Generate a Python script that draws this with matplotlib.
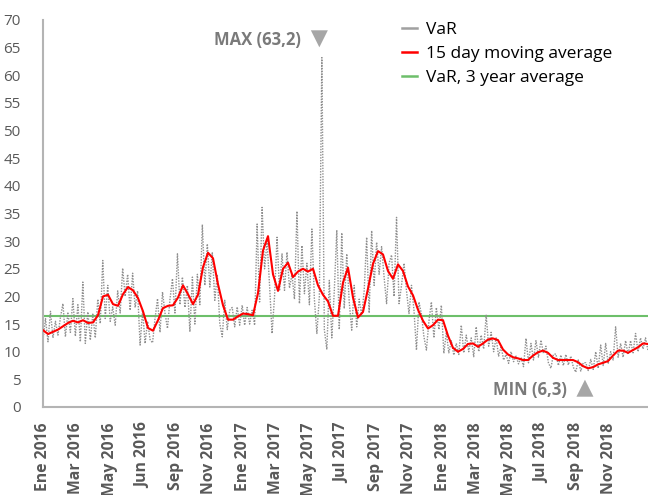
import numpy as np
import matplotlib
matplotlib.use("Agg")
import matplotlib.pyplot as plt

plt.rcParams['font.family'] = ['Open Sans', 'Noto Sans', 'DejaVu Sans']

# Daily VaR (millions), Jan 2016 - Dec 2018
var_daily = [
    12.0, 16.0, 11.8, 17.3, 12.5, 15.5, 13.0, 16.2, 18.7, 12.7,
    17.0, 13.5, 19.6, 12.8, 18.5, 11.8, 22.6, 11.5, 17.2, 12.1,
    16.8, 12.5, 19.5, 15.1, 26.5, 16.0, 22.0, 15.5, 18.1, 14.8,
    21.0, 17.0, 25.1, 20.0, 24.0, 17.5, 24.2, 18.0, 21.0, 11.2,
    17.5, 11.5, 15.5, 12.2, 11.6, 16.0, 19.6, 13.5, 20.8, 17.0,
    14.2, 19.5, 23.2, 17.0, 27.7, 18.5, 23.5, 18.0, 22.0, 13.6,
    23.5, 15.0, 24.0, 18.5, 33.0, 22.0, 29.5, 21.7, 28.0, 19.3,
    24.0, 15.1, 12.7, 19.3, 14.0, 17.5, 18.0, 14.5, 18.1, 14.8,
    18.4, 14.8, 18.0, 15.0, 17.5, 14.8, 33.1, 19.0, 36.1, 25.0,
    30.0, 22.0, 13.3, 20.0, 30.7, 21.0, 27.7, 21.1, 28.0, 21.5,
    24.0, 19.5, 35.4, 18.7, 29.2, 20.5, 26.0, 18.5, 32.2, 19.5,
    13.3, 20.0, 63.2, 14.0, 10.4, 22.9, 12.5, 21.0, 32.0, 14.0,
    31.5, 17.8, 27.7, 19.0, 13.9, 22.0, 14.5, 19.5, 16.5, 21.0,
    30.7, 17.0, 31.9, 22.0, 29.8, 24.0, 29.0, 23.5, 18.7, 26.0,
    27.5, 20.0, 34.3, 18.7, 22.0, 26.0, 21.0, 16.9, 22.0, 17.5,
    10.3, 19.0, 16.8, 12.7, 10.3, 15.5, 19.0, 12.5, 18.0, 14.0,
    18.4, 9.7, 13.5, 9.8, 12.0, 9.4, 11.5, 9.5, 14.8, 9.8,
    13.0, 10.0, 12.5, 9.1, 14.5, 10.0, 13.0, 10.5, 16.6, 11.0,
    13.5, 10.0, 12.5, 9.2, 11.0, 8.5, 9.5, 7.9, 10.0, 8.2,
    9.2, 7.8, 9.0, 7.3, 12.4, 8.0, 11.5, 8.5, 12.0, 9.0,
    12.1, 9.7, 11.0, 8.0, 7.0, 9.5, 9.6, 7.5, 9.4, 7.5,
    9.5, 7.6, 9.2, 7.2, 6.3, 8.5, 6.5, 8.0, 8.0, 6.6,
    8.6, 6.8, 10.0, 7.0, 11.2, 7.5, 11.5, 7.8, 10.0, 8.5,
    14.5, 9.0, 11.5, 9.0, 12.0, 9.5, 12.0, 9.8, 13.3, 10.0,
    12.5, 10.5, 12.5, 10.2,
]

# 15 day moving average of VaR
var_ma15 = [
    13.9, 13.2, 13.6, 14.0, 14.6, 15.2, 15.6, 15.3, 15.7, 15.2,
    15.3, 16.6, 20.0, 20.3, 18.6, 18.3, 20.4, 21.7, 21.1, 19.7,
    17.3, 14.3, 13.8, 15.7, 17.9, 18.3, 18.4, 19.8, 22.0, 20.4,
    18.6, 20.3, 25.3, 27.9, 26.9, 22.2, 18.4, 15.8, 15.8, 16.4,
    16.9, 16.8, 16.6, 20.6, 28.3, 30.9, 24.0, 21.0, 25.0, 26.1,
    23.5, 24.5, 25.0, 24.5, 25.0, 22.0, 20.3, 19.1, 16.5, 16.5,
    22.5, 25.2, 19.8, 16.2, 17.2, 21.4, 25.9, 28.2, 27.6, 24.6,
    23.2, 25.8, 24.6, 21.8, 20.2, 17.6, 15.6, 14.2, 14.8, 15.8,
    15.7, 12.9, 10.7, 10.0, 10.5, 11.4, 11.5, 10.9, 11.5, 12.2,
    12.4, 12.1, 10.4, 9.5, 9.0, 8.8, 8.5, 8.5, 9.3, 9.9,
    10.2, 9.8, 8.9, 8.5, 8.5, 8.5, 8.5, 8.1, 7.4, 7.0,
    7.2, 7.7, 8.0, 8.3, 9.3, 10.2, 10.2, 9.8, 10.3, 10.8,
    11.5, 11.4,
]

# VaR average over the three years
var_3y_avg = 16.4

month_labels = [
    "Ene 2016", "Mar 2016", "May 2016", "Jun 2016", "Sep 2016", "Nov 2016",
    "Ene 2017", "Mar 2017", "May 2017", "Jul 2017", "Sep 2017", "Nov 2017",
    "Ene 2018", "Mar 2018", "May 2018", "Jul 2018", "Sep 2018", "Nov 2018",
]

# time axis in months from January 2016
span_months = 36.34
x_var = np.linspace(0, span_months, len(var_daily))
x_ma = np.linspace(0, span_months, len(var_ma15))

fig = plt.figure(figsize=(6.48, 4.95), dpi=100)
ax = fig.add_axes([43 / 648, 1 - 407 / 495, 1 - 43 / 648, (407 - 20) / 495])

grey = "#8f8f8f"
ax.plot(x_var, var_daily, color=grey, lw=1.0, linestyle=(0, (1, 1)), zorder=2)
ax.plot(x_ma, var_ma15, color="#ff0000", lw=1.5, zorder=3)
ax.axhline(var_3y_avg, color="#6dbf6a", lw=1.5, zorder=1)

ax.set_xlim(0, span_months)
ax.set_ylim(0, 70)
ax.set_yticks(np.arange(0, 71, 5))
ax.set_xticks(np.arange(0, 2 * len(month_labels), 2))
ax.set_xticklabels(month_labels, rotation=90, fontweight="bold",
                   fontsize=11.3, color="#595959")
ax.tick_params(axis="y", length=0, pad=16, labelsize=11, labelcolor="#595959")
ax.tick_params(axis="x", length=0, pad=11)
for side in ("top", "right"):
    ax.spines[side].set_visible(False)
for side in ("left", "bottom"):
    ax.spines[side].set_color("#b4b4b4")
    ax.spines[side].set_linewidth(1.5)

# extreme values
i_max = int(np.argmax(var_daily))
i_min = int(np.argmin(var_daily))
v_max = var_daily[i_max]
v_min = var_daily[i_min]
ann_color = "#7a7a7a"
ax.scatter([x_var[i_max] - 0.15], [66.6], marker="v", s=150, color="#a6a6a6",
           edgecolors="none", zorder=4)
ax.text(x_var[i_max] - 1.25, 66.4, f"MAX ({v_max:.1f})".replace(".", ","),
        ha="right", va="center", fontsize=12, fontweight="bold", color=ann_color)
ax.scatter([x_var[i_min] + 0.55], [3.4], marker="^", s=150, color="#a6a6a6",
           edgecolors="none", zorder=4)
ax.text(x_var[i_min] - 0.55, 3.0, f"MIN ({v_min:.1f})".replace(".", ","),
        ha="right", va="center", fontsize=12, fontweight="bold", color=ann_color)

handles = [
    plt.Line2D([], [], color="#a0a0a0", lw=1.8),
    plt.Line2D([], [], color="#ff0000", lw=1.8),
    plt.Line2D([], [], color="#6dbf6a", lw=1.8),
]
ax.legend(handles, ["VaR", "15 day moving average", "VaR, 3 year average"],
          loc="upper left", bbox_to_anchor=(343 / 605, 1.035), frameon=False,
          fontsize=12.5, handlelength=0.9, handletextpad=0.5, labelspacing=0.45)

fig.savefig("out.png", dpi=100)
